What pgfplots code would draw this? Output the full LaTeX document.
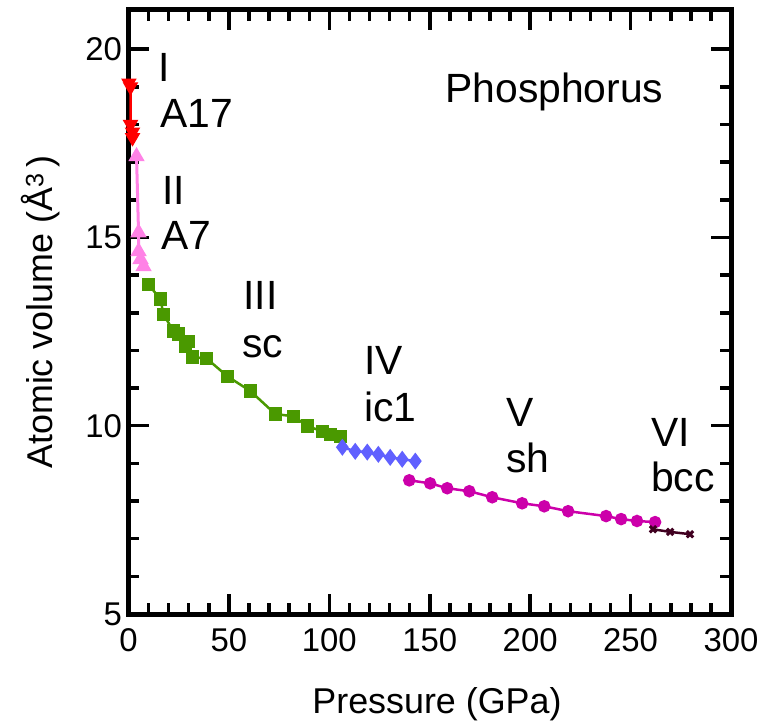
\documentclass[border=0pt]{standalone}
\usepackage{fontspec}
\setmainfont{Liberation Sans}
\usepackage{pgfplots}
\pgfplotsset{compat=1.18}
\definecolor{cI}{RGB}{255,0,0}
\definecolor{cII}{RGB}{255,130,230}
\definecolor{cIII}{RGB}{74,153,0}
\definecolor{cIV}{RGB}{96,96,255}
\definecolor{cV}{RGB}{204,0,170}
\definecolor{cVI}{RGB}{64,0,32}
\tikzset{annot/.style={anchor=base west, inner sep=0pt, font=\fontsize{41}{41}\selectfont}}
\begin{document}
\begin{tikzpicture}
\useasboundingbox (-128.5bp,-114bp) rectangle (636.5bp,614bp);
\begin{axis}[
  scale only axis, width=602.5bp, height=604bp,
  xmin=0, xmax=300, ymin=5, ymax=21.04,
  xtick={0,50,...,300}, ytick={5,10,15,20},
  minor x tick num=4, minor y tick num=4,
  tick align=inside, tick pos=both, ticklabel pos=left,
  major tick length=20bp, minor tick length=11bp,
  every tick/.style={black, line width=3.5bp},
  axis line style={line width=5bp},
  /pgf/number format/assume math mode=true,
  ticklabel style={font=\fontsize{33}{33}\selectfont},
  xticklabel style={yshift=-11bp},
  yticklabel style={xshift=-3bp},
  label style={font=\fontsize{36}{36}\selectfont},
  xlabel={Pressure (GPa)},
  ylabel={Atomic volume (Å\textsuperscript{3}\,)},
  xlabel style={at={(axis description cs:0.512,-0.149)}, anchor=center},
  ylabel style={at={(axis description cs:-0.146,0.5)}, anchor=center},
  clip=false,
]
\addplot[cI, line width=2.5bp, mark=triangle*, mark size=6.5bp, mark options={rotate=180}] coordinates {
(0.2,19.1) (1,19.0) (1,18.0) (2,17.8) (2,17.65)};
\addplot[cII, line width=3bp, mark=triangle*, mark size=6.5bp] coordinates {
(4,17.15) (5,15.13) (5,14.63) (6,14.42) (7.5,14.23)};
\addplot[cIII, line width=2.5bp, mark=square*, mark size=5.5bp] coordinates {
(10.0,13.75) (15.9,13.36) (17.4,12.96) (22.4,12.51) (24.9,12.43) (28.4,12.11) (29.9,12.24) (31.8,11.82) (38.8,11.79) (49.3,11.31) (60.7,10.92) (73.1,10.31) (82.1,10.25) (89.1,9.99) (96.5,9.85) (100.5,9.77) (105.5,9.72)};
\addplot[cIV, line width=2.5bp, mark=diamond*, mark size=6.5bp] coordinates {
(106.5,9.43) (112.9,9.32) (118.9,9.30) (124.4,9.24) (130.3,9.16) (136.3,9.11) (142.8,9.06)};
\addplot[cV, line width=2.5bp, mark=*, mark size=5bp] coordinates {
(139.8,8.55) (150.2,8.47) (158.7,8.34) (169.7,8.26) (181.1,8.10) (196.0,7.94) (207.0,7.86) (218.9,7.73) (237.8,7.60) (245.3,7.52) (253.2,7.47) (262.2,7.44)};
\addplot[cVI, line width=2.5bp, mark=x, mark size=4.5bp, mark options={line width=3bp}] coordinates {
(261.2,7.25) (269.7,7.18) (279.6,7.12)};
\node[annot] at (axis cs:157.7,18.58) {Phosphorus};
\node[annot] at (axis cs:14.9,19.14) {I};
\node[annot] at (axis cs:15.9,17.92) {A17};
\node[annot] at (axis cs:16.9,15.88) {II};
\node[annot] at (axis cs:16.4,14.68) {A7};
\node[annot] at (axis cs:57.2,13.09) {III};
\node[annot] at (axis cs:56.7,11.82) {sc};
\node[annot] at (axis cs:117.4,11.37) {IV};
\node[annot] at (axis cs:117.4,10.12) {ic1};
\node[annot] at (axis cs:188,9.99) {V};
\node[annot] at (axis cs:188,8.77) {sh};
\node[annot] at (axis cs:260.2,9.46) {VI};
\node[annot] at (axis cs:260.2,8.24) {bcc};
\end{axis}
\end{tikzpicture}
\end{document}
